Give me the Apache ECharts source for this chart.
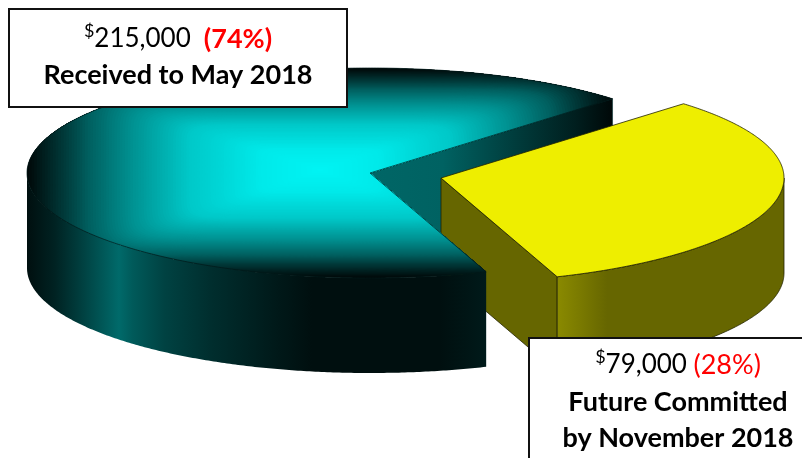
<!DOCTYPE html>
<html><head><meta charset="utf-8">
<style>html,body{margin:0;padding:0;background:#fff}#c{width:802px;height:458px}</style>
<script src="https://cdn.jsdelivr.net/npm/echarts@6/dist/echarts.min.js"></script>
</head><body><div id="c"></div>
<script>
// Data
const categories = ['Received to May 2018', ['Future Committed', 'by November 2018']];
const amounts = [215000, 79000];
const percentLabels = [74, 28];
const sliceShares = [68, 32];   // share of the circle each slice is drawn with

// Layout and style
const START = 45, RX = 343, RY = 105, DEPTH = 95;
const CENTERS = [[370, 173], [441, 178]];
const GLOW = {x: 320, y: 170, left: 26, right: 614, top: 68, bottom: 278, power: 10, rings: 110};
// brightness of the teal face (green/blue channel) from the bright point out to the rim box
const tealTop = [[0,244],[0.2,234],[0.45,200],[0.65,144],[0.79,96],[0.88,56],[1,8]];
const tealArc = [[0,'#000F0F'],[0.06,'#002222'],[0.12,'#004040'],[0.2,'#006A6A'],[0.23,'#005A5A'],[0.3,'#004242'],[0.4,'#002E2E'],[0.55,'#001818'],[0.62,'#000F0F'],[0.9,'#000F0F'],[1,'#001A1A']];
const tealCut = [[0,'#006666'],[0.3,'#006262'],[0.6,'#003C3C'],[0.85,'#001E1E'],[1,'#000808']];
const yellowArc = [[0,'#8A8A00'],[0.1,'#7A7A00'],[0.22,'#666600'],[1,'#666600']];
const stops = list => list.map(s => ({offset:s[0], color:s[1]}));
const lin = (x, y, x2, y2, list) => ({type:'linear', global:true, x, y, x2, y2, colorStops: stops(list)});
const rim = (c, deg) => [c[0] + RX*Math.cos(deg*Math.PI/180), c[1] - RY*Math.sin(deg*Math.PI/180)];
const arc = (c, a, b) => { const p=[]; const n=Math.max(2,Math.ceil(Math.abs(b-a)*2));
  for (let i=0;i<=n;i++) p.push(rim(c, a+(b-a)*i/n)); return p; };
const down = p => [p[0], p[1]+DEPTH];

function clipHalf(poly, p, q) {
  const side = r => (q[0]-p[0])*(r[1]-p[1]) - (q[1]-p[1])*(r[0]-p[0]);
  const out = [];
  poly.forEach((r, i) => {
    const n = poly[(i+1)%poly.length], sr = side(r), sn = side(n);
    if (sr >= 0) out.push(r);
    if ((sr >= 0) !== (sn >= 0)) { const t = sr/(sr-sn); out.push([r[0]+(n[0]-r[0])*t, r[1]+(n[1]-r[1])*t]); }
  });
  return out;
}
function clipConvex(poly, clip) {
  let out = poly;
  for (let i=0;i<clip.length && out.length;i++) out = clipHalf(out, clip[i], clip[(i+1)%clip.length]);
  return out;
}
function shade(t) {
  for (let i=1;i<tealTop.length;i++) if (t <= tealTop[i][0]) {
    const a = tealTop[i-1], b = tealTop[i];
    const v = Math.round(a[1] + (b[1]-a[1])*(t-a[0])/(b[0]-a[0]));
    return `rgb(0,${v},${v})`;
  }
  return `rgb(0,8,8)`;
}
function contour(t) {
  const g = GLOW, e = 2/g.power, pts = [], N = 72;
  for (let i=0;i<N;i++) {
    const f = i/N*2*Math.PI, c = Math.cos(f), s = Math.sin(f);
    const u = Math.sign(c)*Math.pow(Math.abs(c), e)*t, v = Math.sign(s)*Math.pow(Math.abs(s), e)*t;
    pts.push([g.x + u*(u<0 ? g.x-g.left : g.right-g.x), g.y + v*(v<0 ? g.y-g.top : g.bottom-g.y)]);
  }
  return pts;
}
// soft rectangular path gradient: nested rounded-box contours, each cut to the slice
function tealFace(pts) {
  const out = [{type:'polygon', z2:4, shape:{points:pts}, style:{fill:shade(1)}}];
  for (let k=GLOW.rings;k>=1;k--) {
    const t = k/GLOW.rings, poly = clipConvex(pts, contour(t));
    if (poly.length > 2) out.push({type:'polygon', z2:4, shape:{points:poly}, style:{fill:shade(t)}});
  }
  return out;
}

function renderSlice(params, api) {
  const i = params.dataIndex, total = sliceShares.reduce((s,v)=>s+v,0);
  const before = sliceShares.slice(0,i).reduce((s,v)=>s+v,0);
  const a = START + before/total*360, b = a + api.value(0)/total*360;
  const c = CENTERS[i], teal = i === 0;
  const edge = {stroke: teal ? '#001818' : '#222200', lineWidth: 0.8};
  const kids = [];
  const s = rim(c, a);
  kids.push({type:'polygon', z2: 1, shape:{points:[c, s, down(s), down(c)]},
    style:Object.assign({fill: teal ? lin(c[0], 0, s[0], 0, tealCut) : '#666600'}, teal ? {stroke:'#003333',lineWidth:.5} : edge)});
  const f0 = Math.max(a, 180), f1 = Math.min(b, 360);
  const top = arc(c, f0, f1);
  const x0 = top[0][0], x1 = top[top.length-1][0];
  kids.push({type:'polygon', z2: teal ? 5 : 2, shape:{points: top.concat(top.map(down).reverse())},
    style:Object.assign({fill: lin(x0, 0, x1, 0, teal ? tealArc : yellowArc)}, teal ? {} : edge)});
  const pts = [c].concat(arc(c, a, b));
  if (teal) {
    tealFace(pts).forEach(k => kids.push(k));
    kids.push({type:'polygon', z2: 6, shape:{points: pts}, style:{fill:'none', stroke:'#001a1a', lineWidth:.7}});
  } else {
    kids.push({type:'polygon', z2: 3, shape:{points: pts}, style:Object.assign({fill:'#EEEE00'}, edge)});
  }
  return {type:'group', children: kids};
}

const fmt = v => v.toLocaleString('en-US');
const FONT = 'Lato, Carlito, "Open Sans", sans-serif';
const labelText = (x, y, text, rich) => ({type:'text', x, y, z:101,
  style:{text, x:0, y:0, align:'center', verticalAlign:'middle', font:'700 27px '+FONT, fill:'#000', rich}});
const rich = {
  sup:{fontFamily:FONT, fontSize:18, fill:'#000', padding:[0,0,15,0]},
  amt:{fontFamily:FONT, fontSize:26, fill:'#000'},
  pb:{fontFamily:FONT, fontSize:27, fontWeight:700, fill:'#FF0000'},
  pn:{fontFamily:FONT, fontSize:27, fill:'#FF0000'},
  b:{fontFamily:FONT, fontSize:27, fontWeight:700, fill:'#000'}
};
const graphic = [
  {type:'rect', z:100, shape:{x:9,y:9,width:338,height:98}, style:{fill:'#fff',stroke:'#111',lineWidth:2}},
  {type:'rect', z:100, shape:{x:529,y:338,width:290,height:140}, style:{fill:'#fff',stroke:'#111',lineWidth:2}},
  labelText(178, 39, `{sup|$}{amt|${fmt(amounts[0])}}  {pb|(${percentLabels[0]}%)}`, rich),
  labelText(178, 75, `{b|${categories[0]}}`, rich),
  labelText(678, 365, `{sup|$}{amt|${fmt(amounts[1])}} {pn|(${percentLabels[1]}%)}`, rich),
  labelText(678, 402, `{b|${categories[1][0]}}`, rich),
  labelText(678, 438, `{b|${categories[1][1]}}`, rich)
];
const chart = echarts.init(document.getElementById('c'), null, {renderer:'canvas'});
chart.setOption({
  animation:false, backgroundColor:'#fff',
  series:[{type:'custom', coordinateSystem:'none', silent:true, renderItem:renderSlice,
    data: sliceShares.map((v,i)=>({name:String(categories[i]), value:[v]}))}],
  graphic
});
</script></body></html>
